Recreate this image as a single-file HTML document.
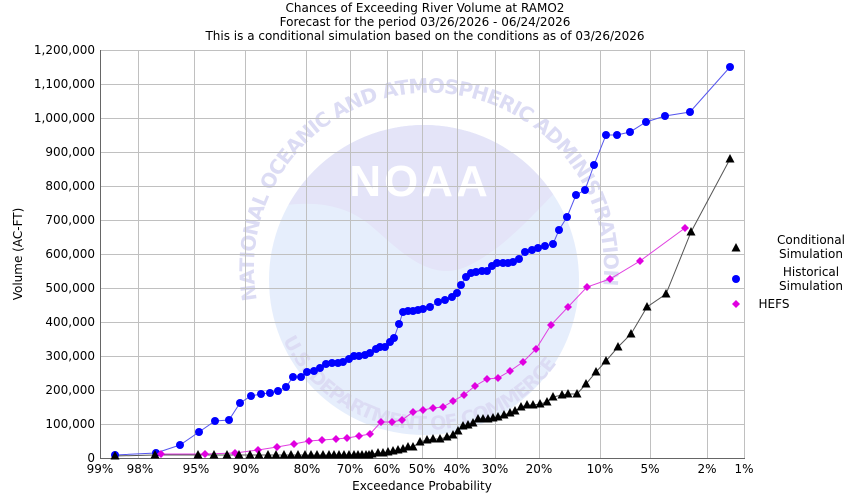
<!DOCTYPE html>
<html><head><meta charset="utf-8"><style>
body{margin:0;background:#fff}
svg{display:block;font-family:"DejaVu Sans","Liberation Sans",sans-serif}
</style></head><body>
<svg width="850" height="500" viewBox="0 0 850 500" xmlns="http://www.w3.org/2000/svg">
<defs>
<clipPath id="cc"><circle cx="424" cy="280" r="155"/></clipPath>
<path id="ring" d="M 257,300 A 175,175 0 1,1 601,300"/>
<path id="ring2" d="M 283,340 A 160,160 0 0,0 568,345"/>
<g id="tri"><polygon points="0,-5 4.5,3.5 -4.5,3.5" fill="#000"/></g>
<g id="dot"><circle r="4" fill="#0000ff"/></g>
<g id="dia"><polygon points="0,-4 4,0 0,4 -4,0" fill="#e000e0"/></g>
</defs>
<!-- watermark -->
<g>
<circle cx="424" cy="280" r="155" fill="#e6eefc"/>
<path clip-path="url(#cc)" d="M 260,120 L 600,120 L 600,150 C 560,180 520,240 470,265 C 430,285 400,250 370,225 C 340,200 300,200 260,210 Z" fill="#e4e4f8"/>
<text x="420" y="196" font-size="44" font-weight="bold" fill="#fff" text-anchor="middle" font-family="Liberation Sans,sans-serif" letter-spacing="3">NOAA</text>
<text font-size="20" font-weight="bold" fill="#dcdcf4"><textPath href="#ring" textLength="600" lengthAdjust="spacing">NATIONAL OCEANIC AND ATMOSPHERIC ADMINISTRATION</textPath></text>
<text font-size="19" font-weight="bold" fill="#dcdcf4"><textPath href="#ring2" textLength="330" lengthAdjust="spacing">U.S. DEPARTMENT OF COMMERCE</textPath></text>
</g>
<!-- title -->
<g font-size="12" text-anchor="middle" fill="#000">
<text x="425" y="12">Chances of Exceeding River Volume at RAMO2</text>
<text x="425" y="26">Forecast for the period 03/26/2026 - 06/24/2026</text>
<text x="425" y="40">This is a conditional simulation based on the conditions as of 03/26/2026</text>
</g>
<!-- grid -->
<g stroke="#c0c0c0" stroke-width="1">
<line x1="100" y1="50.5" x2="745" y2="50.5"/><line x1="100" y1="84.5" x2="745" y2="84.5"/><line x1="100" y1="118.5" x2="745" y2="118.5"/><line x1="100" y1="152.5" x2="745" y2="152.5"/><line x1="100" y1="186.5" x2="745" y2="186.5"/><line x1="100" y1="220.5" x2="745" y2="220.5"/><line x1="100" y1="254.5" x2="745" y2="254.5"/><line x1="100" y1="288.5" x2="745" y2="288.5"/><line x1="100" y1="322.5" x2="745" y2="322.5"/><line x1="100" y1="356.5" x2="745" y2="356.5"/><line x1="100" y1="390.5" x2="745" y2="390.5"/><line x1="100" y1="424.5" x2="745" y2="424.5"/>
<line x1="138.5" y1="50" x2="138.5" y2="458"/><line x1="194.5" y1="50" x2="194.5" y2="458"/><line x1="245.5" y1="50" x2="245.5" y2="458"/><line x1="306.5" y1="50" x2="306.5" y2="458"/><line x1="350.5" y1="50" x2="350.5" y2="458"/><line x1="387.5" y1="50" x2="387.5" y2="458"/><line x1="422.5" y1="50" x2="422.5" y2="458"/><line x1="457.5" y1="50" x2="457.5" y2="458"/><line x1="495.5" y1="50" x2="495.5" y2="458"/><line x1="539.5" y1="50" x2="539.5" y2="458"/><line x1="600.5" y1="50" x2="600.5" y2="458"/><line x1="650.5" y1="50" x2="650.5" y2="458"/><line x1="707.5" y1="50" x2="707.5" y2="458"/><line x1="744.5" y1="50" x2="744.5" y2="458"/>
</g>
<line x1="100.5" y1="50" x2="100.5" y2="458" stroke="#666"/>
<line x1="100" y1="458.5" x2="745" y2="458.5" stroke="#666"/>
<!-- y ticks -->
<g font-size="12" text-anchor="end">
<text x="95" y="54">1,200,000</text><text x="95" y="88">1,100,000</text><text x="95" y="122">1,000,000</text><text x="95" y="156">900,000</text><text x="95" y="190">800,000</text><text x="95" y="224">700,000</text><text x="95" y="258">600,000</text><text x="95" y="292">500,000</text><text x="95" y="326">400,000</text><text x="95" y="360">300,000</text><text x="95" y="394">200,000</text><text x="95" y="428">100,000</text><text x="95" y="462">0</text>
</g>
<g font-size="12" text-anchor="middle">
<text x="100" y="473">99%</text><text x="140" y="473">98%</text><text x="196" y="473">95%</text><text x="246" y="473">90%</text><text x="307" y="473">80%</text><text x="350" y="473">70%</text><text x="387" y="473">60%</text><text x="422" y="473">50%</text><text x="457" y="473">40%</text><text x="495" y="473">30%</text><text x="539" y="473">20%</text><text x="600" y="473">10%</text><text x="650" y="473">5%</text><text x="707" y="473">2%</text><text x="744" y="473">1%</text>
<text x="422" y="490">Exceedance Probability</text>
<text transform="translate(22,254) rotate(-90)">Volume (AC-FT)</text>
</g>
<!-- series -->
<polyline fill="none" stroke="#5555ee" stroke-width="1" points="115,455 156,453 180,445 199,432 215,421 229,420 240,403 251,396 261,394 270,393 278,391 286,387 293,377 301,377 307,372 314,371 320,368 326,364 332,363 338,363 343,362 349,359 354,356 359,356 365,355 370,353 376,349 380,347 385,347 390,342 394,338 399,324 403,312 408,311 413,311 418,310 423,309 430,307 438,302 445,300 452,297 457,293 461,285 466,277 471,273 476,272 482,271 487,271 492,266 497,263 503,263 508,263 513,262 519,259 525,252 532,250 538,248 545,246 553,244 559,230 567,217 576,195 585,190 594,165 606,135 617,135 630,132 646,122 665,116 690,112 730,67"/>
<polyline fill="none" stroke="#e040e0" stroke-width="1" points="161,454 205,454 235,453 258,450 277,447 294,444 309,441 322,440 336,439 347,438 359,436 370,434 381,422 392,422 402,420 413,412 423,410 433,408 443,407 453,401 464,395 475,386 487,379 498,378 510,371 523,362 536,349 551,325 568,307 587,287 610,279 640,261 685,228"/>
<polyline fill="none" stroke="#555" stroke-width="1" points="115,456 155,455 198,455 214,455 227,455 239,455 250,455 259,455 268,455 276,455 284,455 291,455 298,455 305,455 311,455 317,455 323,455 329,455 334,455 339,455 344,455 349,455 354,455 358,455 362,455 366,455 369,455 372,454 378,453 383,453 388,452 393,451 398,450 403,449 408,447 413,447 420,442 427,440 433,439 440,439 447,437 453,435 458,431 463,426 468,425 473,423 478,419 483,419 488,419 493,418 498,417 504,415 510,413 515,411 521,407 527,405 533,405 540,404 547,402 553,397 562,395 568,394 577,394 586,384 596,372 606,361 618,347 631,334 647,307 666,294 691,232 730,159"/>
<g>
<use href="#dot" x="115" y="455"/><use href="#dot" x="156" y="453"/><use href="#dot" x="180" y="445"/><use href="#dot" x="199" y="432"/><use href="#dot" x="215" y="421"/><use href="#dot" x="229" y="420"/><use href="#dot" x="240" y="403"/><use href="#dot" x="251" y="396"/><use href="#dot" x="261" y="394"/><use href="#dot" x="270" y="393"/><use href="#dot" x="278" y="391"/><use href="#dot" x="286" y="387"/><use href="#dot" x="293" y="377"/><use href="#dot" x="301" y="377"/><use href="#dot" x="307" y="372"/><use href="#dot" x="314" y="371"/><use href="#dot" x="320" y="368"/><use href="#dot" x="326" y="364"/><use href="#dot" x="332" y="363"/><use href="#dot" x="338" y="363"/><use href="#dot" x="343" y="362"/><use href="#dot" x="349" y="359"/><use href="#dot" x="354" y="356"/><use href="#dot" x="359" y="356"/><use href="#dot" x="365" y="355"/><use href="#dot" x="370" y="353"/><use href="#dot" x="376" y="349"/><use href="#dot" x="380" y="347"/><use href="#dot" x="385" y="347"/><use href="#dot" x="390" y="342"/><use href="#dot" x="394" y="338"/><use href="#dot" x="399" y="324"/><use href="#dot" x="403" y="312"/><use href="#dot" x="408" y="311"/><use href="#dot" x="413" y="311"/><use href="#dot" x="418" y="310"/><use href="#dot" x="423" y="309"/><use href="#dot" x="430" y="307"/><use href="#dot" x="438" y="302"/><use href="#dot" x="445" y="300"/><use href="#dot" x="452" y="297"/><use href="#dot" x="457" y="293"/><use href="#dot" x="461" y="285"/><use href="#dot" x="466" y="277"/><use href="#dot" x="471" y="273"/><use href="#dot" x="476" y="272"/><use href="#dot" x="482" y="271"/><use href="#dot" x="487" y="271"/><use href="#dot" x="492" y="266"/><use href="#dot" x="497" y="263"/><use href="#dot" x="503" y="263"/><use href="#dot" x="508" y="263"/><use href="#dot" x="513" y="262"/><use href="#dot" x="519" y="259"/><use href="#dot" x="525" y="252"/><use href="#dot" x="532" y="250"/><use href="#dot" x="538" y="248"/><use href="#dot" x="545" y="246"/><use href="#dot" x="553" y="244"/><use href="#dot" x="559" y="230"/><use href="#dot" x="567" y="217"/><use href="#dot" x="576" y="195"/><use href="#dot" x="585" y="190"/><use href="#dot" x="594" y="165"/><use href="#dot" x="606" y="135"/><use href="#dot" x="617" y="135"/><use href="#dot" x="630" y="132"/><use href="#dot" x="646" y="122"/><use href="#dot" x="665" y="116"/><use href="#dot" x="690" y="112"/><use href="#dot" x="730" y="67"/>
</g>
<g>
<use href="#dia" x="161" y="454"/><use href="#dia" x="205" y="454"/><use href="#dia" x="235" y="453"/><use href="#dia" x="258" y="450"/><use href="#dia" x="277" y="447"/><use href="#dia" x="294" y="444"/><use href="#dia" x="309" y="441"/><use href="#dia" x="322" y="440"/><use href="#dia" x="336" y="439"/><use href="#dia" x="347" y="438"/><use href="#dia" x="359" y="436"/><use href="#dia" x="370" y="434"/><use href="#dia" x="381" y="422"/><use href="#dia" x="392" y="422"/><use href="#dia" x="402" y="420"/><use href="#dia" x="413" y="412"/><use href="#dia" x="423" y="410"/><use href="#dia" x="433" y="408"/><use href="#dia" x="443" y="407"/><use href="#dia" x="453" y="401"/><use href="#dia" x="464" y="395"/><use href="#dia" x="475" y="386"/><use href="#dia" x="487" y="379"/><use href="#dia" x="498" y="378"/><use href="#dia" x="510" y="371"/><use href="#dia" x="523" y="362"/><use href="#dia" x="536" y="349"/><use href="#dia" x="551" y="325"/><use href="#dia" x="568" y="307"/><use href="#dia" x="587" y="287"/><use href="#dia" x="610" y="279"/><use href="#dia" x="640" y="261"/><use href="#dia" x="685" y="228"/>
</g>
<g>
<use href="#tri" x="115" y="456"/><use href="#tri" x="155" y="455"/><use href="#tri" x="198" y="455"/><use href="#tri" x="214" y="455"/><use href="#tri" x="227" y="455"/><use href="#tri" x="239" y="455"/><use href="#tri" x="250" y="455"/><use href="#tri" x="259" y="455"/><use href="#tri" x="268" y="455"/><use href="#tri" x="276" y="455"/><use href="#tri" x="284" y="455"/><use href="#tri" x="291" y="455"/><use href="#tri" x="298" y="455"/><use href="#tri" x="305" y="455"/><use href="#tri" x="311" y="455"/><use href="#tri" x="317" y="455"/><use href="#tri" x="323" y="455"/><use href="#tri" x="329" y="455"/><use href="#tri" x="334" y="455"/><use href="#tri" x="339" y="455"/><use href="#tri" x="344" y="455"/><use href="#tri" x="349" y="455"/><use href="#tri" x="354" y="455"/><use href="#tri" x="358" y="455"/><use href="#tri" x="362" y="455"/><use href="#tri" x="366" y="455"/><use href="#tri" x="369" y="455"/><use href="#tri" x="372" y="454"/><use href="#tri" x="378" y="453"/><use href="#tri" x="383" y="453"/><use href="#tri" x="388" y="452"/><use href="#tri" x="393" y="451"/><use href="#tri" x="398" y="450"/><use href="#tri" x="403" y="449"/><use href="#tri" x="408" y="447"/><use href="#tri" x="413" y="447"/><use href="#tri" x="420" y="442"/><use href="#tri" x="427" y="440"/><use href="#tri" x="433" y="439"/><use href="#tri" x="440" y="439"/><use href="#tri" x="447" y="437"/><use href="#tri" x="453" y="435"/><use href="#tri" x="458" y="431"/><use href="#tri" x="463" y="426"/><use href="#tri" x="468" y="425"/><use href="#tri" x="473" y="423"/><use href="#tri" x="478" y="419"/><use href="#tri" x="483" y="419"/><use href="#tri" x="488" y="419"/><use href="#tri" x="493" y="418"/><use href="#tri" x="498" y="417"/><use href="#tri" x="504" y="415"/><use href="#tri" x="510" y="413"/><use href="#tri" x="515" y="411"/><use href="#tri" x="521" y="407"/><use href="#tri" x="527" y="405"/><use href="#tri" x="533" y="405"/><use href="#tri" x="540" y="404"/><use href="#tri" x="547" y="402"/><use href="#tri" x="553" y="397"/><use href="#tri" x="562" y="395"/><use href="#tri" x="568" y="394"/><use href="#tri" x="577" y="394"/><use href="#tri" x="586" y="384"/><use href="#tri" x="596" y="372"/><use href="#tri" x="606" y="361"/><use href="#tri" x="618" y="347"/><use href="#tri" x="631" y="334"/><use href="#tri" x="647" y="307"/><use href="#tri" x="666" y="294"/><use href="#tri" x="691" y="232"/><use href="#tri" x="730" y="159"/>
</g>
<!-- legend -->
<use href="#tri" x="736" y="248"/>
<use href="#dot" x="736" y="279"/>
<use href="#dia" x="736" y="304"/>
<g font-size="12" text-anchor="middle">
<text x="811" y="244">Conditional</text><text x="811" y="258">Simulation</text>
<text x="811" y="276">Historical</text><text x="811" y="290">Simulation</text>
<text x="774" y="308">HEFS</text>
</g>
</svg>
</body></html>
